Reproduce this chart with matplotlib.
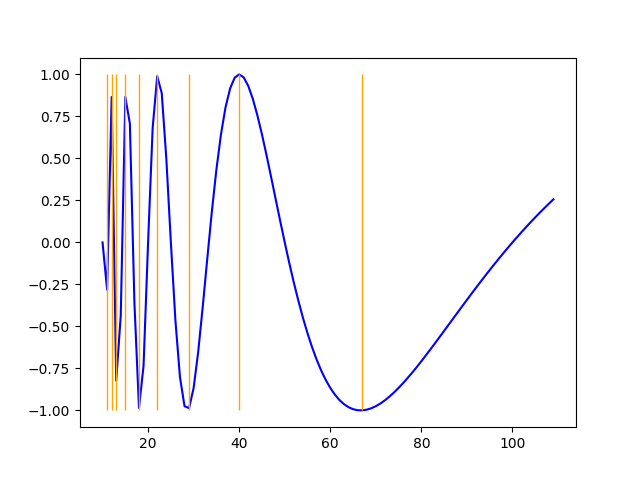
import numpy as np
import matplotlib
matplotlib.use("Agg")
from matplotlib import pyplot as plt

# sampled signal, x = 10..109
x = list(range(10, 110))
y = [0.0, -0.2817, 0.8660, -0.8230, -0.4339, 0.8660, 0.7071, -0.3613, -0.9848, -0.7357,
     0.0, 0.6802, 0.9898, 0.8879, 0.5, 0.0, -0.4647, -0.8019, -0.9749, -0.9868,
     -0.8660, -0.6514, -0.3827, -0.0951, 0.1838, 0.4339, 0.6428, 0.8038, 0.9158, 0.9798,
     1.0, 0.9817, 0.9309, 0.8535, 0.7557, 0.6428, 0.5196, 0.3904, 0.2588, 0.1279,
     0.0, -0.1229, -0.2393, -0.3482, -0.4488, -0.5406, -0.6235, -0.6974, -0.7623, -0.8183,
     -0.8660, -0.9057, -0.9378, -0.9626, -0.9808, -0.9927, -0.9989, -0.9997, -0.9957, -0.9873,
     -0.9749, -0.9589, -0.9397, -0.9176, -0.8930, -0.8660, -0.8371, -0.8066, -0.7746, -0.7416,
     -0.7071, -0.6720, -0.6362, -0.5999, -0.5633, -0.5264, -0.4894, -0.4524, -0.4154, -0.3786,
     -0.3420, -0.3057, -0.2698, -0.2343, -0.1992, -0.1646, -0.1305, -0.0971, -0.0641, -0.0317,
     0.0, 0.0311, 0.0616, 0.0913, 0.1205, 0.1490, 0.1769, 0.2041, 0.2306, 0.2565]

# local extrema positions
peaks = [11, 12, 13, 15, 18, 22, 29, 40, 67]

plt.figure(figsize=(6.4, 4.8), dpi=100)
plt.plot(x, y, color="blue")
plt.vlines(peaks, -1, 1, color="orange", linewidth=1)

plt.savefig("out.png")
